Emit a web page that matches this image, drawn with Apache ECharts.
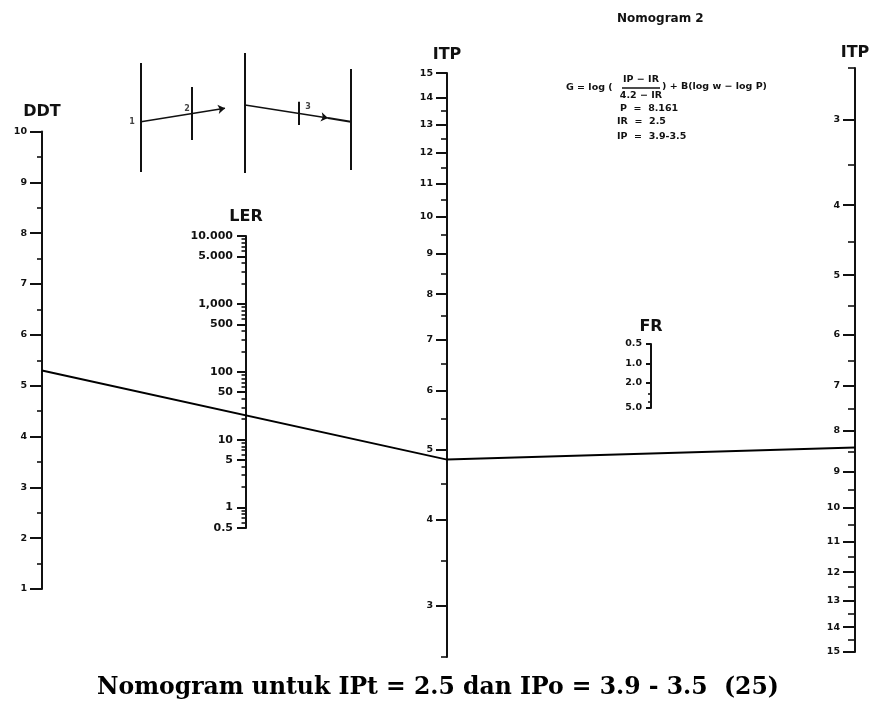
<!DOCTYPE html>
<html><head><meta charset="utf-8">
<script src="https://cdn.jsdelivr.net/npm/echarts@6/dist/echarts.min.js"></script>
<style>html,body{margin:0;padding:0;background:#fff}#c{width:876px;height:708px}</style>
</head><body><div id="c"></div>
<script>
// ---------------- data ----------------
const ddtRange = [1, 10];
const ddtMajor = [1, 2, 3, 4, 5, 6, 7, 8, 9, 10];
const ddtMinor = [1.5, 2.5, 3.5, 4.5, 5.5, 6.5, 7.5, 8.5, 9.5];

const lerRange = [0.5, 10000];
const lerMajor = [0.5, 1, 5, 10, 50, 100, 500, 1000, 5000, 10000];
const lerLabels = ['0.5', '1', '5', '10', '50', '100', '500', '1,000', '5.000', '10.000'];
const lerMinor = [0.6, 0.7, 0.8, 0.9, 2, 3, 4, 6, 7, 8, 9, 20, 30, 40, 60, 70, 80, 90,
                  200, 300, 400, 600, 700, 800, 900, 2000, 3000, 4000, 6000, 7000, 8000, 9000];

// both ITP scales are graduated as log(ITP + 1)
const itpShift = 1;
const itpRange = [2.5, 15];
const itpMajor = [3, 4, 5, 6, 7, 8, 9, 10, 11, 12, 13, 14, 15];
const itpMidMinor = [2.5, 3.5, 4.5, 5.5, 6.5, 7.5, 8.5, 9.5, 10.5, 11.5, 12.5, 13.5];
const itpRightMinor = [2.5, 3.5, 4.5, 5.5, 6.5, 7.5, 8.5, 9.5, 10.5, 11.5, 12.5, 13.5, 14.5];

const frRange = [0.5, 5];
const frMajor = [0.5, 1, 2, 5];
const frLabels = ['0.5', '1.0', '2.0', '5.0'];
const frMinor = [3, 4];

// example reading drawn across the nomogram
const readingDDT = 5.3;
const readingITPmid = 4.85;
const readingITPright = 8.4;

// little "how to use" sketch (drawing units of the inset box)
const insetPlain = [
  [[21, 13], [21, 122]], [[71.7, 37], [71.7, 90]],
  [[125, 3], [125, 123]], [[179, 51.7], [179, 75]], [[230.7, 19], [230.7, 120]],
  [[208, 68], [230.7, 71.7]]
];
const insetArrows = [
  [[21, 71.7], [105, 58.3]],
  [[125, 55], [208, 68]]
];
const insetNumbers = [['1', 12, 71.7], ['2', 67, 59], ['3', 188, 57]];

// ---------------- chart ----------------
const F = 'DejaVu Sans';
const INK = '#111';
const chart = echarts.init(document.getElementById('c'));

function labelFrom(vals, texts) {
  return function (v) {
    const i = vals.findIndex(m => Math.abs(m - v) <= Math.abs(m) * 1e-6);
    return i >= 0 ? texts[i] : '';
  };
}

function makeAxes(g, c) {
  const common = {
    gridIndex: g, type: c.type, min: c.min, max: c.max, inverse: !!c.inverse, position: 'left',
    splitLine: { show: false }, splitArea: { show: false },
    minorTick: { show: false }, minorSplitLine: { show: false }
  };
  if (c.type === 'log') common.logBase = 10;
  const major = Object.assign({}, common, {
    name: c.name, nameLocation: c.inverse ? 'start' : 'end', nameGap: c.nameGap,
    nameTextStyle: { fontFamily: F, fontWeight: 'bold', fontSize: 16, color: INK },
    axisLine: { show: true, onZero: false, lineStyle: { color: INK, width: 2 } },
    axisTick: { show: true, inside: false, length: c.majorLen, customValues: c.major,
                lineStyle: { color: INK, width: 2 } },
    axisLabel: { show: true, customValues: c.major, margin: c.margin, formatter: c.fmt,
                 fontFamily: F, fontWeight: 'bold', fontSize: c.fontSize, color: INK, hideOverlap: false }
  });
  const minor = Object.assign({}, common, {
    axisLine: { show: false },
    axisTick: { show: true, inside: false, length: c.minorLen, customValues: c.minor,
                lineStyle: { color: INK, width: 1.6 } },
    axisLabel: { show: false }
  });
  return [major, minor];
}

const shift = a => a.map(v => v + itpShift);
const itpFmt = v => String(Math.round(v - itpShift));

const grids = [
  { left: 42, top: 131.5, width: 1, height: 457.5 },  // DDT
  { left: 246, top: 236, width: 1, height: 292 },      // LER
  { left: 447, top: 73, width: 1, height: 584 },       // ITP (middle)
  { left: 651, top: 344, width: 1, height: 64 },       // FR
  { left: 855, top: 68, width: 1, height: 584 },       // ITP (right)
  { left: 120, top: 50, width: 260, height: 140 }      // inset sketch
];
grids.forEach(g => { g.outerBoundsMode = 'none'; g.containLabel = false; });

const yAxes = [].concat(
  makeAxes(0, { type: 'value', min: ddtRange[0], max: ddtRange[1], major: ddtMajor, minor: ddtMinor,
    majorLen: 12, minorLen: 5, margin: 15, fontSize: 9.5, fmt: v => String(v), name: 'DDT', nameGap: 12 }),
  makeAxes(1, { type: 'log', min: lerRange[0] * 0.9999, max: lerRange[1] * 1.0001, major: lerMajor, minor: lerMinor,
    majorLen: 9, minorLen: 4.5, margin: 13, fontSize: 11, fmt: labelFrom(lerMajor, lerLabels), name: 'LER', nameGap: 11 }),
  makeAxes(2, { type: 'log', min: (itpRange[0] + itpShift) * 0.9999, max: (itpRange[1] + itpShift) * 1.0001,
    major: shift(itpMajor), minor: shift(itpMidMinor),
    majorLen: 11, minorLen: 6, margin: 14, fontSize: 9.5, fmt: itpFmt, name: 'ITP', nameGap: 10 }),
  makeAxes(3, { type: 'log', min: frRange[0] * 0.9999, max: frRange[1] * 1.0001, inverse: true,
    major: frMajor, minor: frMinor,
    majorLen: 5, minorLen: 3, margin: 9, fontSize: 9.5, fmt: labelFrom(frMajor, frLabels), name: 'FR', nameGap: 9 }),
  makeAxes(4, { type: 'log', min: (itpRange[0] + itpShift) * 0.9999, max: (itpRange[1] + itpShift) * 1.0001, inverse: true,
    major: shift(itpMajor), minor: shift(itpRightMinor),
    majorLen: 12, minorLen: 7, margin: 15, fontSize: 9.5, fmt: itpFmt, name: 'ITP', nameGap: 7 }),
  [{ gridIndex: 5, type: 'value', min: 0, max: 140, inverse: true, show: false, splitLine: { show: false } }]
);

const xAxes = grids.map((g, i) => i < 5
  ? { gridIndex: i, type: 'value', min: 0, max: 1, show: false, splitLine: { show: false } }
  : { gridIndex: i, type: 'value', min: 0, max: 260, show: false, splitLine: { show: false } });

chart.setOption({
  animation: false,
  backgroundColor: '#fff',
  grid: grids,
  xAxis: xAxes,
  yAxis: yAxes,
  series: [
    { type: 'lines', coordinateSystem: 'cartesian2d', xAxisIndex: 5, yAxisIndex: 10,
      symbol: ['none', 'none'], lineStyle: { color: INK, width: 2, opacity: 1 },
      data: insetPlain.map(c => ({ coords: c })) },
    { type: 'lines', coordinateSystem: 'cartesian2d', xAxisIndex: 5, yAxisIndex: 10,
      symbol: ['none', 'arrow'], symbolSize: 7, lineStyle: { color: INK, width: 1.6, opacity: 1 },
      data: insetArrows.map(c => ({ coords: c })) },
    { type: 'scatter', xAxisIndex: 5, yAxisIndex: 10, symbolSize: 0,
      label: { show: true, position: 'inside', formatter: p => p.data[0], fontFamily: F, fontWeight: 'bold', fontSize: 8, color: INK },
      encode: { x: 1, y: 2 },
      data: insetNumbers }
  ]
});

// reading line drawn through the axes' own scales
const px = (xi, yi, v) => chart.convertToPixel({ xAxisIndex: xi, yAxisIndex: yi }, [0, v]);
const pDDT = px(0, 0, readingDDT);
const pMid = px(2, 4, readingITPmid + itpShift);
const pRight = px(4, 8, readingITPright + itpShift);

const txt = (t, x, y, size, extra) => Object.assign({
  type: 'text', x: x, y: y,
  style: Object.assign({ text: t, fill: INK, fontFamily: F, fontWeight: 'bold', fontSize: size,
    textAlign: 'left', textVerticalAlign: 'middle', align: 'left', verticalAlign: 'middle' }, extra || {})
});

chart.setOption({
  graphic: [
    { type: 'polyline', shape: { points: [pDDT, pMid, pRight] }, style: { stroke: '#000', lineWidth: 2, fill: null }, z: 100 },
    txt('Nomogram 2', 617, 19, 12),
    txt('G = log (', 566, 88, 9.5),
    txt('IP − IR', 641, 80, 9.5, { textAlign: 'center', align: 'center' }),
    { type: 'line', shape: { x1: 622, y1: 88, x2: 660, y2: 88 }, style: { stroke: INK, lineWidth: 1.5 } },
    txt('4.2 − IR', 641, 96, 9.5, { textAlign: 'center', align: 'center' }),
    txt(') + B(log w − log P)', 662, 87, 9.5),
    txt('P  =  8.161', 620, 109, 9.5),
    txt('IR  =  2.5', 617, 122, 9.5),
    txt('IP  =  3.9-3.5', 617, 137, 9.5),
    { type: 'text', x: 438, y: 688,
      style: { text: 'Nomogram untuk IPt = 2.5 dan IPo = 3.9 - 3.5  (25)', fill: '#000',
        fontFamily: 'DejaVu Serif', fontWeight: 'bold', fontSize: 23.5,
        textAlign: 'center', textVerticalAlign: 'middle', align: 'center', verticalAlign: 'middle' } }
  ]
});
</script>
</body></html>
